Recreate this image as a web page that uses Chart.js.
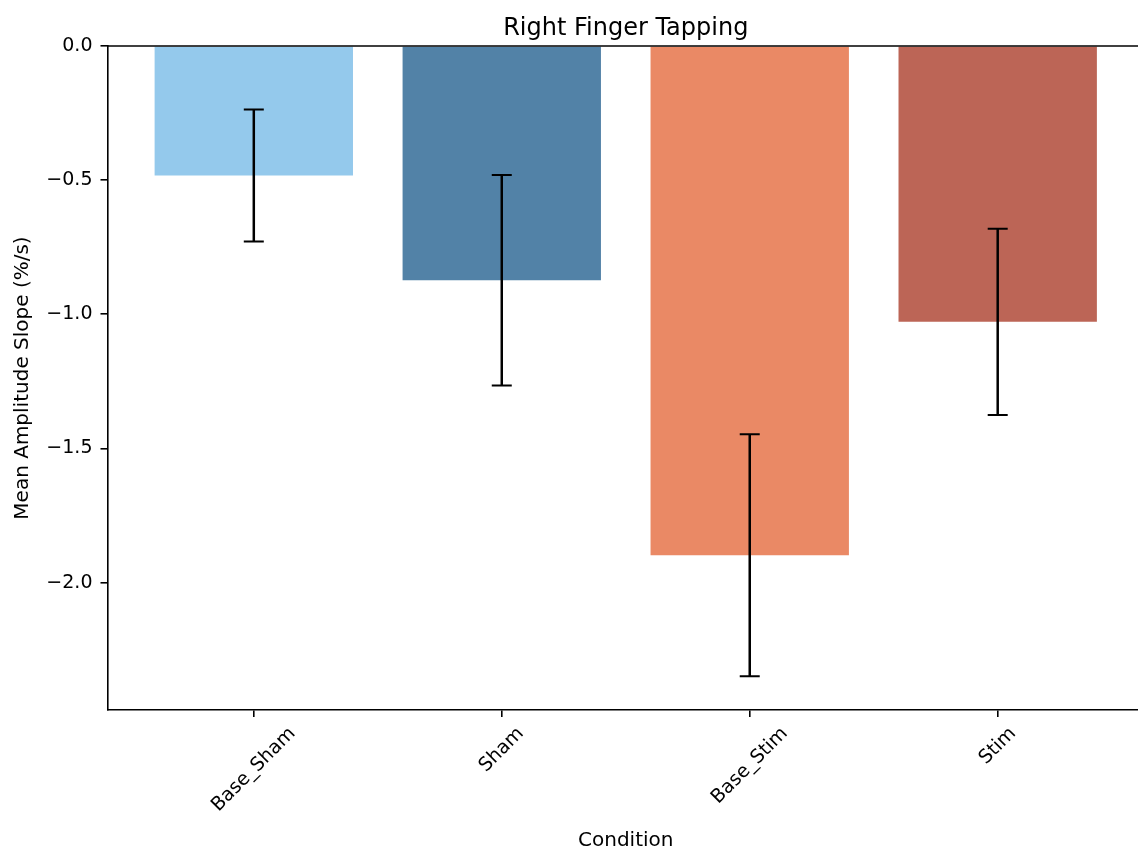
<!DOCTYPE html>
<html>
<head>
<meta charset="utf-8">
<script src="https://cdn.jsdelivr.net/npm/chart.js@4.4.1/dist/chart.umd.min.js"></script>
<style>
  html, body { margin: 0; padding: 0; background: #fff; overflow: hidden; }
  #wrap { width: 1138px; height: 852px; overflow: hidden; }
</style>
</head>
<body>
<div id="wrap"><canvas id="grafico" width="1150" height="852"></canvas></div>
<script>
// values
const categorias = ['Base_Sham', 'Sham', 'Base_Stim', 'Stim'];
const mediaSlope = [-0.483, -0.873, -1.898, -1.028];
const erroSlope = [0.246, 0.392, 0.451, 0.347];
const coresBarras = ['#94c9ec', '#5282a7', '#ea8965', '#bc6556'];
const yTicks = [0, -0.5, -1.0, -1.5, -2.0];

const fonte = 'DejaVu Sans';
const tamTick = 19;

// error bars + rotated x labels + top spine, drawn like matplotlib does
const extras = {
  id: 'extras',
  afterDatasetsDraw(chart) {
    const ctx = chart.ctx;
    const x = chart.scales.x, y = chart.scales.y;
    ctx.save();
    ctx.strokeStyle = '#000';
    for (let i = 0; i < categorias.length; i++) {
      const px = x.getPixelForValue(i);
      const yTop = y.getPixelForValue(mediaSlope[i] + erroSlope[i]);
      const yBot = y.getPixelForValue(mediaSlope[i] - erroSlope[i]);
      ctx.lineWidth = 2.5;
      ctx.beginPath();
      ctx.moveTo(px, yTop);
      ctx.lineTo(px, yBot);
      ctx.stroke();
      ctx.lineWidth = 2;
      ctx.beginPath();
      ctx.moveTo(px - 10, yTop); ctx.lineTo(px + 10, yTop);
      ctx.moveTo(px - 10, yBot); ctx.lineTo(px + 10, yBot);
      ctx.stroke();
    }
    ctx.restore();
  },
  afterDraw(chart) {
    const ctx = chart.ctx;
    const area = chart.chartArea;
    const x = chart.scales.x;
    ctx.save();
    // top spine (right one falls outside the picture)
    ctx.strokeStyle = '#000';
    ctx.lineWidth = 1.6;
    ctx.beginPath();
    ctx.moveTo(area.left, area.top);
    ctx.lineTo(chart.width, area.top);
    ctx.stroke();

    // rotated category labels, centred on the tick
    ctx.font = tamTick + 'px "' + fonte + '"';
    ctx.fillStyle = '#000';
    ctx.textAlign = 'center';
    ctx.textBaseline = 'middle';
    const topo = area.bottom + 7 + 7;
    for (let i = 0; i < categorias.length; i++) {
      const w = ctx.measureText(categorias[i]).width;
      const h = tamTick * 1.0;
      const bboxH = (w + h) / Math.SQRT2;
      const px = x.getPixelForValue(i);
      const py = topo + bboxH / 2;
      ctx.save();
      ctx.translate(px, py);
      ctx.rotate(-Math.PI / 4);
      ctx.fillText(categorias[i], 0, 0);
      ctx.restore();
    }
    ctx.restore();
  }
};

new Chart(document.getElementById('grafico'), {
  type: 'bar',
  data: {
    datasets: [{
      data: mediaSlope.map((v, i) => ({ x: i, y: v })),
      backgroundColor: coresBarras,
      borderWidth: 0,
      barPercentage: 0.8,
      categoryPercentage: 1.0
    }]
  },
  options: {
    responsive: false,
    animation: false,
    devicePixelRatio: 1,
    layout: { padding: { left: 0, right: 6, top: 0, bottom: 0 } },
    scales: {
      x: {
        type: 'linear',
        offset: false,
        min: -0.59,
        max: 3.59,
        afterBuildTicks: s => { s.ticks = categorias.map((c, i) => ({ value: i })); },
        afterFit: s => { s.height = 142; },
        ticks: { display: false },
        grid: { offset: false, drawOnChartArea: false, tickLength: 7, lineWidth: 1.6, color: '#000' },
        border: { color: '#000', width: 1.6 },
        title: {
          display: true,
          text: 'Condition',
          color: '#000',
          font: { family: fonte, size: 20, lineHeight: 1.1 },
          padding: { top: 0, bottom: 0 }
        }
      },
      y: {
        min: -2.475,
        max: 0,
        afterBuildTicks: s => { s.ticks = yTicks.map(v => ({ value: v })); },
        afterFit: s => { s.width = 107.5; },
        ticks: {
          color: '#000',
          padding: 8,
          font: { family: fonte, size: tamTick },
          callback: v => (v < 0 ? '\u2212' : '') + Math.abs(v).toFixed(1)
        },
        grid: { drawOnChartArea: false, tickLength: 7, lineWidth: 1.6, color: '#000' },
        border: { color: '#000', width: 1.6 },
        title: {
          display: true,
          text: 'Mean Amplitude Slope (%/s)',
          color: '#000',
          font: { family: fonte, size: 20, lineHeight: 1.2 },
          padding: { top: 11, bottom: 0 }
        }
      }
    },
    plugins: {
      legend: { display: false },
      tooltip: { enabled: false },
      title: {
        display: true,
        text: 'Right Finger Tapping',
        color: '#000',
        fullSize: false,
        font: { family: fonte, size: 24, weight: 'normal', lineHeight: 1.2 },
        padding: { top: 14, bottom: 3.2 }
      }
    }
  },
  plugins: [extras]
});
</script>
</body>
</html>
